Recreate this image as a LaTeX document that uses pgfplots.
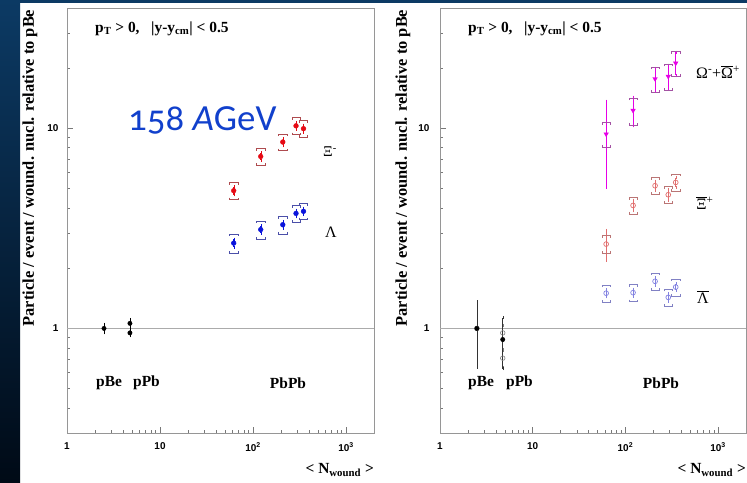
\documentclass[border=0pt]{standalone}
\usepackage{pgfplots}
\pgfplotsset{compat=1.18}
\usepackage{pgfplotstable}
\usepackage{fontspec}
\setmainfont{Liberation Serif}
\newfontfamily\lsans{Liberation Sans}
\newfontfamily\calib[Numbers=OldStyle]{Carlito}

\definecolor{bgtop}{RGB}{12,58,100}
\definecolor{bgbot}{RGB}{0,10,22}
\definecolor{xired}{RGB}{230,10,20}
\definecolor{lamblue}{RGB}{10,20,220}
\definecolor{omemag}{RGB}{230,0,230}
\definecolor{axibar}{RGB}{225,110,110}
\definecolor{alamb}{RGB}{130,130,225}
\definecolor{axgray}{RGB}{150,150,150}
\definecolor{titleblue}{RGB}{17,64,204}

\pgfdeclareplotmark{brtop}{%
 \pgfpathmoveto{\pgfqpoint{-\pgfplotmarksize}{-0.5\pgfplotmarksize}}%
 \pgfpathlineto{\pgfqpoint{-\pgfplotmarksize}{0pt}}%
 \pgfpathlineto{\pgfqpoint{\pgfplotmarksize}{0pt}}%
 \pgfpathlineto{\pgfqpoint{\pgfplotmarksize}{-0.5\pgfplotmarksize}}%
 \pgfusepathqstroke}
\pgfdeclareplotmark{brbot}{%
 \pgfpathmoveto{\pgfqpoint{-\pgfplotmarksize}{0.5\pgfplotmarksize}}%
 \pgfpathlineto{\pgfqpoint{-\pgfplotmarksize}{0pt}}%
 \pgfpathlineto{\pgfqpoint{\pgfplotmarksize}{0pt}}%
 \pgfpathlineto{\pgfqpoint{\pgfplotmarksize}{0.5\pgfplotmarksize}}%
 \pgfusepathqstroke}

\newcommand\lbl{\bfseries\fontsize{15.5}{16}\selectfont}
\newcommand\tkl{\lsans\bfseries\fontsize{10}{10}\selectfont}

% left panel
\pgfplotstableread{
x y stat sys
62 4.88 0.22 0.48
121 7.24 0.30 0.70
209 8.55 0.35 0.82
290 10.3 0.40 1.00
349 9.97 0.40 0.95
}\xiL
\pgfplotstableread{
x y stat sys
62 2.67 0.12 0.30
121 3.12 0.13 0.33
209 3.30 0.13 0.33
290 3.76 0.14 0.35
349 3.85 0.14 0.35
}\lamL
\pgfplotstableread{
x y stat
2.5 1.00 0.05
4.75 1.06 0.05
4.75 0.95 0.03
}\refL
% right panel
\pgfplotstableread{
x y stat sys
62 9.37 4.3 1.3
121 12.3 2.0 1.9
209 17.7 2.3 2.5
290 18.2 2.5 2.7
349 21.2 2.8 3.0
}\omR
\pgfplotstableread{
x y stat sys
62 2.64 0.45 0.27
121 4.12 0.25 0.38
209 5.17 0.28 0.50
290 4.66 0.28 0.45
349 5.37 0.30 0.52
}\xiR
\pgfplotstableread{
x y stat sys
62 1.50 0.06 0.15
121 1.51 0.06 0.15
209 1.72 0.07 0.17
290 1.43 0.06 0.14
349 1.61 0.06 0.16
}\lamR
\pgfplotstableread{
x y stat
2.5 1.00 0.36
4.75 0.88 0.25
}\refRf
\pgfplotstableread{
x y stat
2.5 1.00 0.14
2.5 1.00 0.05
4.75 0.95 0.08
4.75 0.71 0.07
}\refRo

\pgfplotsset{
 every error bar/.style={line width=0.5pt},
}

\begin{document}
\begin{tikzpicture}
\useasboundingbox (0,0) rectangle (747bp,483bp);
\fill[white] (0,0) rectangle (747bp,483bp);
\fill[bgtop] (0,480bp) rectangle (747bp,483bp);
\shade[top color=bgtop, bottom color=bgbot] (0,0) rectangle (20bp,483bp);

% ---------------- left panel
\begin{axis}[at={(67bp,50bp)}, anchor=south west,
  scale only axis, width=307bp, height=425bp,
  xmode=log, ymode=log, xmin=1, xmax=2000, ymin=0.3, ymax=40,
  axis line style={axgray, line width=0.9pt},
  every tick/.style={axgray!80!black, line width=0.6pt},
  tick align=inside, xtick pos=bottom, ytick pos=left,
  major tick length=6bp, minor tick length=3bp,
  xtick={1,10,100,1000}, xticklabels={1,10,10\textsuperscript{2},10\textsuperscript{3}},
  minor xtick={2,3,4,5,6,7,8,9,20,30,40,50,60,70,80,90,200,300,400,500,600,700,800,900,2000},
  ytick={1,10}, yticklabels={1,10},
  minor ytick={0.3,0.4,0.5,0.6,0.7,0.8,0.9,2,3,4,5,6,7,8,9,20,30,40},
  xticklabel style={font=\tkl, yshift=-6bp},
  yticklabel style={font=\tkl, xshift=-5bp},
  clip=false]
\addplot[axgray!80, line width=1.3pt, forget plot] coordinates {(1,1) (2000,1)};
% brackets
\addplot[only marks, mark=brtop, mark size=4.2bp, draw=xired!45!gray, line width=0.6pt]
  table[x=x, y expr=\thisrow{y}+\thisrow{sys}] {\xiL};
\addplot[only marks, mark=brbot, mark size=4.2bp, draw=xired!45!gray, line width=0.6pt]
  table[x=x, y expr=\thisrow{y}-\thisrow{sys}] {\xiL};
\addplot[only marks, mark=brtop, mark size=4.2bp, draw=lamblue!45!gray, line width=0.6pt]
  table[x=x, y expr=\thisrow{y}+\thisrow{sys}] {\lamL};
\addplot[only marks, mark=brbot, mark size=4.2bp, draw=lamblue!45!gray, line width=0.6pt]
  table[x=x, y expr=\thisrow{y}-\thisrow{sys}] {\lamL};
% points
\addplot[color=xired, only marks, mark=*, mark size=2.4bp, mark options={draw=xired, fill=xired},
  error bars/.cd, y dir=both, y explicit, error mark options={mark size=1.6bp}]
  table[x=x, y=y, y error=stat] {\xiL};
\addplot[color=lamblue, only marks, mark=*, mark size=2.4bp, mark options={draw=lamblue, fill=lamblue},
  error bars/.cd, y dir=both, y explicit, error mark options={mark size=1.6bp}]
  table[x=x, y=y, y error=stat] {\lamL};
\addplot[color=black, only marks, mark=*, mark size=2.2bp, mark options={draw=black, fill=black},
  error bars/.cd, y dir=both, y explicit, error mark options={mark size=1.6bp}]
  table[x=x, y=y, y error=stat] {\refL};
\end{axis}

% ---------------- right panel
\begin{axis}[at={(440bp,50bp)}, anchor=south west,
  scale only axis, width=306bp, height=425bp,
  xmode=log, ymode=log, xmin=1, xmax=2000, ymin=0.3, ymax=40,
  axis line style={axgray, line width=0.9pt},
  every tick/.style={axgray!80!black, line width=0.6pt},
  tick align=inside, xtick pos=bottom, ytick pos=left,
  major tick length=6bp, minor tick length=3bp,
  xtick={1,10,100,1000}, xticklabels={1,10,10\textsuperscript{2},10\textsuperscript{3}},
  minor xtick={2,3,4,5,6,7,8,9,20,30,40,50,60,70,80,90,200,300,400,500,600,700,800,900,2000},
  ytick={1,10}, yticklabels={1,10},
  minor ytick={0.3,0.4,0.5,0.6,0.7,0.8,0.9,2,3,4,5,6,7,8,9,20,30,40},
  xticklabel style={font=\tkl, yshift=-6bp},
  yticklabel style={font=\tkl, xshift=-7bp},
  clip=false]
\addplot[axgray!80, line width=1.3pt, forget plot] coordinates {(1,1) (2000,1)};
\addplot[only marks, mark=brtop, mark size=4.2bp, draw=omemag!35!gray, line width=0.6pt]
  table[x=x, y expr=\thisrow{y}+\thisrow{sys}] {\omR};
\addplot[only marks, mark=brbot, mark size=4.2bp, draw=omemag!35!gray, line width=0.6pt]
  table[x=x, y expr=\thisrow{y}-\thisrow{sys}] {\omR};
\addplot[only marks, mark=brtop, mark size=4.2bp, draw=axibar!60!gray, line width=0.6pt]
  table[x=x, y expr=\thisrow{y}+\thisrow{sys}] {\xiR};
\addplot[only marks, mark=brbot, mark size=4.2bp, draw=axibar!60!gray, line width=0.6pt]
  table[x=x, y expr=\thisrow{y}-\thisrow{sys}] {\xiR};
\addplot[only marks, mark=brtop, mark size=4.2bp, draw=alamb!70!gray, line width=0.6pt]
  table[x=x, y expr=\thisrow{y}+\thisrow{sys}] {\lamR};
\addplot[only marks, mark=brbot, mark size=4.2bp, draw=alamb!70!gray, line width=0.6pt]
  table[x=x, y expr=\thisrow{y}-\thisrow{sys}] {\lamR};
\addplot[color=omemag, only marks, mark=triangle*, mark size=2.6bp, mark options={rotate=180, draw=omemag, fill=omemag},
  error bars/.cd, y dir=both, y explicit, error mark options={mark size=1.6bp}]
  table[x=x, y=y, y error=stat] {\omR};
\addplot[color=axibar, only marks, mark=o, mark size=2.4bp, mark options={draw=axibar, line width=0.7pt},
  error bars/.cd, y dir=both, y explicit, error mark options={mark size=1.6bp}]
  table[x=x, y=y, y error=stat] {\xiR};
\addplot[color=alamb, only marks, mark=o, mark size=2.4bp, mark options={draw=alamb, line width=0.7pt},
  error bars/.cd, y dir=both, y explicit, error mark options={mark size=1.6bp}]
  table[x=x, y=y, y error=stat] {\lamR};
\addplot[color=gray, only marks, mark=o, mark size=2.3bp, mark options={draw=gray, line width=0.6pt},
  error bars/.cd, y dir=both, y explicit, error mark options={mark size=1.6bp}]
  table[x=x, y=y, y error=stat] {\refRo};
\addplot[color=black!80, only marks, mark=*, mark size=2.2bp, mark options={draw=black, fill=black},
  error bars/.cd, y dir=both, y explicit, error mark options={mark size=1.6bp}]
  table[x=x, y=y, y error=stat] {\refRf};
\end{axis}

% ---------------- texts
\node[rotate=90, font=\bfseries\fontsize{16.5}{17}\selectfont] at (30bp,315bp) {Particle / event / wound. nucl. relative to pBe};
\node[rotate=90, font=\bfseries\fontsize{16.5}{17}\selectfont] at (403bp,315bp) {Particle / event / wound. nucl. relative to pBe};

\node[anchor=west, inner sep=0pt, font=\lbl] at (95bp,454bp) {p\textsubscript{T} > 0,\enspace\ |y-y\textsubscript{cm}| < 0.5};
\node[anchor=west, inner sep=0pt, font=\lbl] at (468bp,454bp) {p\textsubscript{T} > 0,\enspace\ |y-y\textsubscript{cm}| < 0.5};

\node[anchor=west, inner sep=0pt, font=\lbl] at (96bp,100bp) {pBe};
\node[anchor=west, inner sep=0pt, font=\lbl] at (133bp,100bp) {pPb};
\node[inner sep=0pt, font=\lbl] at (288bp,100bp) {PbPb};
\node[anchor=west, inner sep=0pt, font=\lbl] at (468bp,100bp) {pBe};
\node[anchor=west, inner sep=0pt, font=\lbl] at (506bp,100bp) {pPb};
\node[inner sep=0pt, font=\lbl] at (661bp,100bp) {PbPb};

\node[anchor=east, inner sep=0pt, font=\lbl] at (374bp,13bp) {< N\textsubscript{wound} >};
\node[anchor=east, inner sep=0pt, font=\lbl] at (746bp,13bp) {< N\textsubscript{wound} >};

\node[inner sep=0pt, font=\fontsize{15}{16}\selectfont] at (330bp,331bp) {Ξ\textsuperscript{-}};
\node[inner sep=0pt, font=\fontsize{16}{16}\selectfont] at (331bp,251bp) {Λ};
\node[inner sep=0pt, font=\fontsize{16}{16}\selectfont] at (718bp,411bp) {Ω\textsuperscript{-}+$\overline{\mbox{Ω}}$\textsuperscript{+}};
\node[inner sep=0pt, font=\fontsize{16}{16}\selectfont] at (705bp,280bp) {$\overline{\mbox{Ξ}}$\textsuperscript{+}};
\node[inner sep=0pt, font=\fontsize{16}{16}\selectfont] at (703bp,186bp) {$\overline{\mbox{Λ}}$};

\node[anchor=base west, inner sep=0pt, text=titleblue, font=\calib\fontsize{37}{37}\selectfont] at (128bp,352bp) {158 \textit{A}GeV};
\end{tikzpicture}
\end{document}
